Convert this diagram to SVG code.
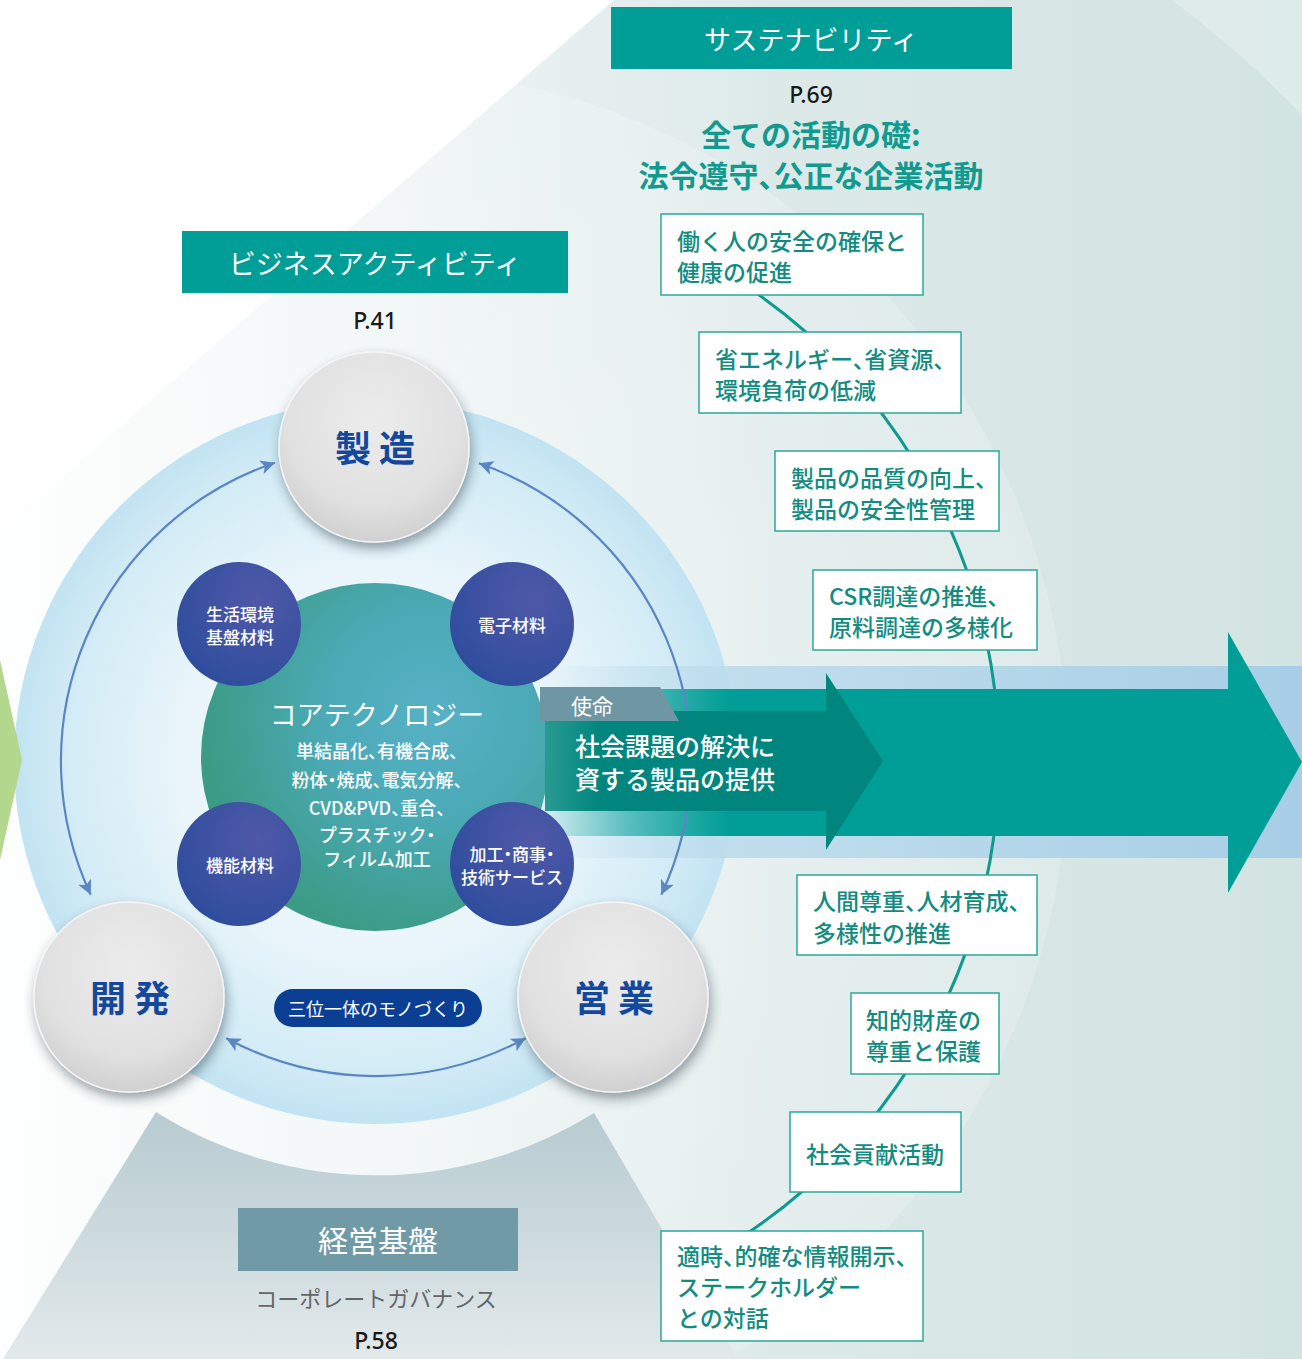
<svg xmlns="http://www.w3.org/2000/svg" width="1302" height="1359" viewBox="0 0 1302 1359">
  <defs>
    <style>
      .jp { font-family: "Noto Sans CJK JP", "Noto Sans", sans-serif; }
      .c { text-anchor: middle; dominant-baseline: central; }
      .l { text-anchor: start; dominant-baseline: central; }
      .half { font-feature-settings: "halt" 1; }
      .banner { fill: #009e96; }
      .banner-text { fill: #ffffff; font-size: 27px; font-weight: 400; }
      .page { fill: #1a1a1a; font-size: 23px; font-weight: 500; font-family: "Noto Sans", "Open Sans", sans-serif; }
      .lead { fill: #129a8e; font-size: 30px; font-weight: 700; }
      .item-box { fill: #ffffff; stroke: #2ba89c; stroke-width: 1.5; }
      .item-text { fill: #128c81; font-size: 23px; font-weight: 500; }
      .pillar { stroke: #f5f5f5; stroke-width: 1.5; }
      .pillar-text { fill: #14489c; font-size: 36px; font-weight: 700; }
      .biz { fill: url(#bizGrad); }
      .biz-text { fill: #ffffff; font-size: 17px; font-weight: 500; }
      .core-text { fill: #ffffff; font-size: 18px; font-weight: 500; }
      .loop { fill: none; stroke: #5b86c3; stroke-width: 2.2; marker-start: url(#head); marker-end: url(#head); }
      .chain { fill: none; stroke: #10998d; stroke-width: 3; }
    </style>

    <!-- background washes -->
    <linearGradient id="bgTint" x1="0" y1="0" x2="1302" y2="0" gradientUnits="userSpaceOnUse">
      <stop offset="0" stop-color="#fdfefe"/>
      <stop offset="0.3" stop-color="#eef4f4"/>
      <stop offset="0.6" stop-color="#dde9e9"/>
      <stop offset="1" stop-color="#d2e4e2"/>
    </linearGradient>
    <linearGradient id="baseGrad" x1="0" y1="1112" x2="0" y2="1359" gradientUnits="userSpaceOnUse">
      <stop offset="0" stop-color="#b7cbd1"/>
      <stop offset="1" stop-color="#e2e9eb"/>
    </linearGradient>
    <radialGradient id="haloGrad" cx="376" cy="762" r="700" gradientUnits="userSpaceOnUse">
      <stop offset="0.5" stop-color="#ffffff" stop-opacity="0.3"/>
      <stop offset="1" stop-color="#ffffff" stop-opacity="0.18"/>
    </radialGradient>
    <radialGradient id="discGrad" cx="376" cy="762" r="362" gradientUnits="userSpaceOnUse">
      <stop offset="0" stop-color="#f5fafc"/>
      <stop offset="0.55" stop-color="#e9f5fa"/>
      <stop offset="0.85" stop-color="#d3ecf6"/>
      <stop offset="1" stop-color="#c2e3f2"/>
    </radialGradient>
    <radialGradient id="coreGrad" cx="430" cy="715" r="230" gradientUnits="userSpaceOnUse">
      <stop offset="0" stop-color="#56b1c5"/>
      <stop offset="0.45" stop-color="#4baab6"/>
      <stop offset="1" stop-color="#3b9b84"/>
    </radialGradient>
    <radialGradient id="bizGrad" cx="0.65" cy="0.3" r="0.75">
      <stop offset="0" stop-color="#5058a8"/>
      <stop offset="1" stop-color="#2f4d9d"/>
    </radialGradient>
    <radialGradient id="pillarGrad" cx="0.5" cy="0.35" r="0.65">
      <stop offset="0" stop-color="#ececec"/>
      <stop offset="0.7" stop-color="#e1e1e1"/>
      <stop offset="1" stop-color="#d0d0d0"/>
    </radialGradient>

    <!-- mission arrow fills -->
    <linearGradient id="bandGrad" x1="540" y1="0" x2="1302" y2="0" gradientUnits="userSpaceOnUse">
      <stop offset="0" stop-color="#b9dbeb" stop-opacity="0"/>
      <stop offset="0.25" stop-color="#bddcec" stop-opacity="0.9"/>
      <stop offset="1" stop-color="#a7cee6"/>
    </linearGradient>
    <linearGradient id="bodyGrad" x1="540" y1="0" x2="730" y2="0" gradientUnits="userSpaceOnUse">
      <stop offset="0" stop-color="#009e96" stop-opacity="0.05"/>
      <stop offset="0.5" stop-color="#009e96" stop-opacity="0.6"/>
      <stop offset="1" stop-color="#009e96"/>
    </linearGradient>
    <linearGradient id="darkGrad" x1="540" y1="0" x2="600" y2="0" gradientUnits="userSpaceOnUse">
      <stop offset="0" stop-color="#2c9c93"/>
      <stop offset="1" stop-color="#00867e"/>
    </linearGradient>

    <filter id="shadow" x="-30%" y="-30%" width="160%" height="170%">
      <feDropShadow dx="2" dy="6" stdDeviation="6" flood-color="#203040" flood-opacity="0.45"/>
    </filter>

    <marker id="head" viewBox="0 0 10 10" refX="10" refY="5" markerWidth="6.5" markerHeight="6.5" orient="auto-start-reverse">
      <path d="M0,0 L10,5 L0,10 L2.5,5 Z" fill="#5b86c3"/>
    </marker>
  </defs>

  <!-- background -->
  <g id="background">
    <rect width="1302" height="1359" fill="#ffffff"/>
    <polygon points="614,0 1302,0 1302,1359 0,1359 0,530" fill="url(#bgTint)"/>
    <circle cx="376" cy="762" r="692" fill="url(#haloGrad)"/>
    <path d="M1172,0 A1110,1110 0 0 1 1302,115 L1302,0 Z" fill="#ffffff" fill-opacity="0.25"/>
    <path d="M156,1112 A413,413 0 0 0 594,1113 L738,1359 L3,1359 Z" fill="url(#baseGrad)"/>
    <circle cx="376" cy="762" r="362" fill="url(#discGrad)"/>
    <polygon points="0,660 22,760 0,860" fill="#b3d78c"/>
  </g>

  <!-- mission arrow -->
  <g id="mission-arrow">
    <rect x="540" y="666" width="762" height="192" fill="url(#bandGrad)"/>
    <rect x="540" y="689" width="690" height="147" fill="url(#bodyGrad)"/>
    <polygon points="1228,632 1302,762 1228,893" fill="#009e96"/>
  </g>

  <!-- connectors -->
  <g id="connectors">
    <path class="chain" d="M752,290 A571,571 0 0 1 994.6,689"/>
    <path class="chain" d="M993.9,836 A571,571 0 0 1 743.4,1236"/>
    <path class="loop" d="M274.9,462.7 A315,315 0 0 0 90.7,894.7"/>
    <path class="loop" d="M478.9,463.3 A315,315 0 0 1 661.3,894.7"/>
    <path class="loop" d="M226.3,1038.2 A315,315 0 0 0 525.7,1038.2"/>
  </g>

  <!-- core technology -->
  <g id="core">
    <circle cx="375" cy="757" r="174" fill="url(#coreGrad)"/>
    <text class="jp c" x="377" y="713" fill="#ffffff" font-size="27">コアテクノロジー</text>
    <text class="jp c core-text half" x="377" y="750">単結晶化、有機合成、</text>
    <text class="jp c core-text half" x="377" y="779">粉体・焼成、電気分解、</text>
    <text class="jp c core-text half" x="377" y="807">CVD&amp;PVD、重合、</text>
    <text class="jp c core-text half" x="377" y="834">プラスチック・</text>
    <text class="jp c core-text" x="377" y="858">フィルム加工</text>
  </g>

  <!-- mission -->
  <g id="mission">
    <rect x="545" y="711" width="283" height="100" fill="url(#darkGrad)"/>
    <polygon points="826,673 883,761 826,850" fill="#00867e"/>
    <polygon points="540,687 660,687 679,721 540,721" fill="#6f97a3"/>
    <text class="jp l" x="571" y="705" fill="#ffffff" font-size="21">使命</text>
    <text class="jp l" x="575" y="745" fill="#ffffff" font-size="25" font-weight="500">社会課題の解決に</text>
    <text class="jp l" x="575" y="778" fill="#ffffff" font-size="25" font-weight="500">資する製品の提供</text>
  </g>

  <!-- business fields -->
  <g id="field-living">
    <circle class="biz" cx="239" cy="624" r="62"/>
    <text class="jp c biz-text" x="240" y="613">生活環境</text>
    <text class="jp c biz-text" x="240" y="636">基盤材料</text>
  </g>
  <g id="field-electronic">
    <circle class="biz" cx="512" cy="624" r="62"/>
    <text class="jp c biz-text" x="512" y="624">電子材料</text>
  </g>
  <g id="field-functional">
    <circle class="biz" cx="239" cy="864" r="62"/>
    <text class="jp c biz-text" x="240" y="864">機能材料</text>
  </g>
  <g id="field-processing">
    <circle class="biz" cx="512" cy="864" r="62"/>
    <text class="jp c biz-text half" x="512" y="853">加工・商事・</text>
    <text class="jp c biz-text" x="512" y="876">技術サービス</text>
  </g>

  <!-- the three pillars -->
  <g id="pillar-manufacturing">
    <circle class="pillar" cx="374" cy="447" r="95" fill="url(#pillarGrad)" filter="url(#shadow)"/>
    <text class="jp c pillar-text" x="375" y="446">製 造</text>
  </g>
  <g id="pillar-development">
    <circle class="pillar" cx="129" cy="997" r="95" fill="url(#pillarGrad)" filter="url(#shadow)"/>
    <text class="jp c pillar-text" x="130" y="996">開 発</text>
  </g>
  <g id="pillar-sales">
    <circle class="pillar" cx="613" cy="997" r="95" fill="url(#pillarGrad)" filter="url(#shadow)"/>
    <text class="jp c pillar-text" x="614" y="996">営 業</text>
  </g>
  <g id="trinity">
    <rect x="274" y="989" width="208" height="38" rx="19" fill="#0b3f93"/>
    <text class="jp c" x="378" y="1008" fill="#ffffff" font-size="18">三位一体のモノづくり</text>
  </g>

  <!-- section headings -->
  <g id="business-activity">
    <rect class="banner" x="182" y="231" width="386" height="62"/>
    <text class="jp c banner-text" x="375" y="262">ビジネスアクティビティ</text>
    <text class="c page" x="375" y="320">P.41</text>
  </g>
  <g id="sustainability">
    <rect class="banner" x="611" y="7" width="401" height="62"/>
    <text class="jp c banner-text" x="811" y="38">サステナビリティ</text>
    <text class="c page" x="811" y="94">P.69</text>
    <text class="jp c lead" x="811" y="133">全ての活動の礎:</text>
    <text class="jp c lead half" x="811" y="174">法令遵守、公正な企業活動</text>
  </g>
  <g id="management-base">
    <rect x="238" y="1208" width="280" height="63" fill="#6f9aa6"/>
    <text class="jp c" x="378" y="1239" fill="#ffffff" font-size="30">経営基盤</text>
    <text class="jp c" x="376" y="1297" fill="#666666" font-size="22">コーポレートガバナンス</text>
    <text class="c page" x="376" y="1340">P.58</text>
  </g>

  <!-- sustainability items -->
  <g id="item-safety">
    <rect class="item-box" x="661" y="214" width="262" height="81"/>
    <text class="jp l item-text" x="677" y="240">働く人の安全の確保と</text>
    <text class="jp l item-text" x="677" y="271">健康の促進</text>
  </g>
  <g id="item-environment">
    <rect class="item-box" x="699" y="332" width="262" height="81"/>
    <text class="jp l item-text half" x="715" y="358">省エネルギー、省資源、</text>
    <text class="jp l item-text" x="715" y="389">環境負荷の低減</text>
  </g>
  <g id="item-quality">
    <rect class="item-box" x="775" y="451" width="224" height="80"/>
    <text class="jp l item-text half" x="791" y="477">製品の品質の向上、</text>
    <text class="jp l item-text" x="791" y="508">製品の安全性管理</text>
  </g>
  <g id="item-procurement">
    <rect class="item-box" x="813" y="570" width="224" height="80"/>
    <text class="jp l item-text half" x="829" y="595">CSR調達の推進、</text>
    <text class="jp l item-text" x="829" y="626">原料調達の多様化</text>
  </g>
  <g id="item-people">
    <rect class="item-box" x="797" y="875" width="240" height="80"/>
    <text class="jp l item-text half" x="813" y="900">人間尊重、人材育成、</text>
    <text class="jp l item-text" x="813" y="932">多様性の推進</text>
  </g>
  <g id="item-ip">
    <rect class="item-box" x="851" y="993" width="148" height="81"/>
    <text class="jp l item-text" x="866" y="1019">知的財産の</text>
    <text class="jp l item-text" x="866" y="1050">尊重と保護</text>
  </g>
  <g id="item-community">
    <rect class="item-box" x="790" y="1112" width="171" height="80"/>
    <text class="jp l item-text" x="806" y="1153">社会貢献活動</text>
  </g>
  <g id="item-disclosure">
    <rect class="item-box" x="661" y="1231" width="262" height="110"/>
    <text class="jp l item-text half" x="677" y="1255">適時、的確な情報開示、</text>
    <text class="jp l item-text" x="677" y="1286">ステークホルダー</text>
    <text class="jp l item-text" x="677" y="1317">との対話</text>
  </g>
</svg>
